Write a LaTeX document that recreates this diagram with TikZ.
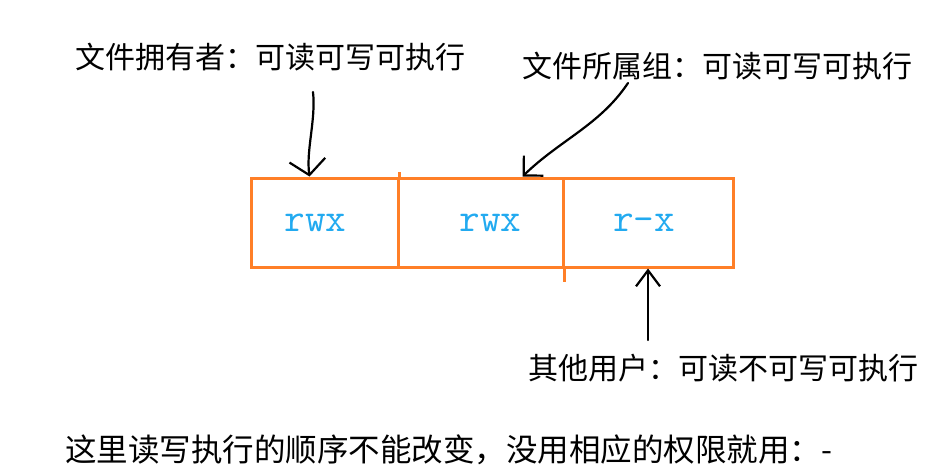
\documentclass[tikz,border=0pt]{standalone}
\usepackage{fontspec}
\newfontfamily\cjk{Noto Sans CJK SC}
\usetikzlibrary{arrows.meta}

\definecolor{boxorange}{HTML}{FF7F27}
\definecolor{permblue}{HTML}{22AAF0}

\begin{document}
\begin{tikzpicture}[x=1pt, y=-1pt,
  cell/.style={draw=boxorange, line width=3pt, minimum height=89pt, inner sep=0pt,
    text=permblue, font=\fontsize{40}{40}\selectfont\ttfamily},
  lbl/.style={anchor=west, inner sep=0pt, font=\cjk\fontsize{30}{32}\selectfont},
  hand/.style={black, line width=2.2pt, line cap=round}]

\useasboundingbox (0,0) rectangle (948,464);

% the three permission cells
\node[cell, minimum width=147pt] (owner) at (324.5,222.5) {\hspace*{-18pt}rwx};
\node[cell, minimum width=165pt] (group) at (480.5,222.5) {\hspace*{20pt}rwx};
\node[cell, minimum width=170pt] (other) at (648,222.5) {\hspace*{-8pt}r-x};
\draw[boxorange, line width=3pt] (owner.north east) --++(0,-5);
\draw[boxorange, line width=3pt] (group.south east) --++(0,13);

% texts
\node[lbl] (ownerlbl) at (75,57) {文件拥有者：可读可写可执行};
\node[lbl] (grouplbl) at (522,66) {文件所属组：可读可写可执行};
\node[lbl] (otherlbl) at (528,368) {其他用户：可读不可写可执行};
\node[lbl, font=\cjk\fontsize{31.5}{33}\selectfont] (note) at (65,450) {这里读写执行的顺序不能改变，没用相应的权限就用：-};

% hand drawn arrows
\coordinate (ownfrom) at (313,92);
\coordinate (owntip) at ([xshift=-15]owner.north);
\coordinate (grpfrom) at (628,83);
\coordinate (grptip) at ([xshift=42]group.north);
\coordinate (othfrom) at (648,340);

\draw[hand, -{Straight Barb[length=15pt, width=36pt]}] (ownfrom) .. controls (316,120) and (306,150) .. (owntip);
\draw[hand, -{Straight Barb[length=14pt, width=28pt]}] (grpfrom) .. controls (600,125) and (560,140) .. (grptip);
\draw[hand, -{Straight Barb[length=16pt, width=24pt]}] (othfrom) -- (other.south);

\end{tikzpicture}
\end{document}
